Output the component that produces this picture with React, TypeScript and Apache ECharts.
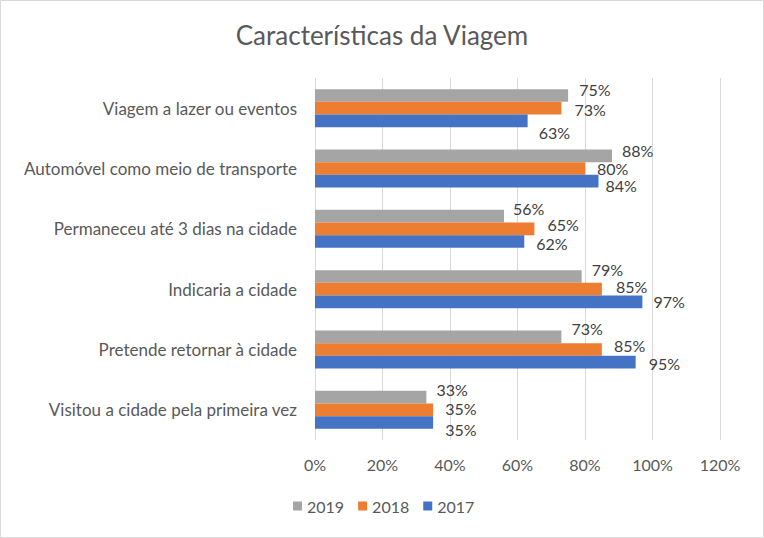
import React, { useEffect, useRef } from "react";
import * as echarts from "echarts";

const categories = [
  "Viagem a lazer ou eventos",
  "Automóvel como meio de transporte",
  "Permaneceu até 3 dias na cidade",
  "Indicaria a cidade",
  "Pretende retornar à cidade",
  "Visitou a cidade pela primeira vez",
];
const seriesNames = ["2019", "2018", "2017"];
const values2019 = [75, 88, 56, 79, 73, 33];
const values2018 = [73, 80, 65, 85, 85, 35];
const values2017 = [63, 84, 62, 97, 95, 35];
const xTicks = [0, 20, 40, 60, 80, 100, 120];

const colors = ["#a5a5a5", "#ed7d31", "#4472c4"];
// label nudges (style only): [dx, dy]
const nudges = [
  [[1, -6], [0, -5], [-1, -8], [0, -7], [0, -8], [0, -8]],
  [[3, 1], [2, 0], [3, -4], [4, -3], [2, -4], [2, -1]],
  [[1, 12], [-3, 4], [2, 2], [1, 0], [3, 1], [2, 7]],
];

const FONT = "Lato";

export default function App() {
  const ref = useRef<HTMLDivElement>(null);
  useEffect(() => {
    document.body.style.margin = "0";
    const chart = echarts.init(ref.current!, null, { renderer: "svg" });
    const all = [values2019, values2018, values2017];
    chart.setOption({
      animation: false,
      backgroundColor: "#ffffff",
      textStyle: { fontFamily: FONT },
      title: {
        text: "Características da Viagem",
        left: "center",
        top: 17,
        textStyle: { fontFamily: FONT, fontSize: 26, fontWeight: "normal", color: "#595959" },
      },
      graphic: [
        {
          type: "rect",
          shape: { x: 0.5, y: 0.5, width: 763, height: 537 },
          style: { fill: "none", stroke: "#d9d9d9", lineWidth: 1 },
          silent: true,
        },
      ],
      legend: {
        data: seriesNames,
        left: 293,
        top: 498,
        padding: 0,
        icon: "rect",
        itemWidth: 9,
        itemHeight: 9,
        itemGap: 14,
        textStyle: { fontFamily: FONT, fontSize: 16, color: "#595959" },
      },
      grid: { left: 315, right: 44, top: 78, bottom: 98, containLabel: false },
      xAxis: {
        type: "value",
        min: xTicks[0],
        max: xTicks[xTicks.length - 1],
        interval: 20,
        axisLine: { show: false },
        axisTick: { show: false },
        axisLabel: {
          margin: 16,
          formatter: (v: number) => v + "%",
          fontFamily: FONT,
          fontSize: 16,
          color: "#595959",
        },
        splitLine: { lineStyle: { color: "#d9d9d9", width: 1 } },
      },
      yAxis: {
        type: "category",
        data: categories,
        inverse: true,
        axisLine: { show: false },
        axisTick: { show: false },
        axisLabel: { margin: 18, fontFamily: FONT, fontSize: 17, color: "#595959" },
      },
      series: seriesNames.map((name, si) => ({
        name,
        type: "bar",
        barGap: "0%",
        barCategoryGap: "37%",
        itemStyle: { color: colors[si] },
        label: {
          show: true,
          position: "right",
          distance: 10,
          formatter: "{c}%",
          fontFamily: FONT,
          fontSize: 16,
          lineHeight: 14,
          color: "#404040",
        },
        data: all[si].map((v, i) => ({
          value: v,
          label: { offset: nudges[si][i] },
        })),
      })),
    });
    return () => chart.dispose();
  }, []);
  return <div ref={ref} style={{ width: 764, height: 538, position: "absolute", left: 0, top: 0 }} />;
}
